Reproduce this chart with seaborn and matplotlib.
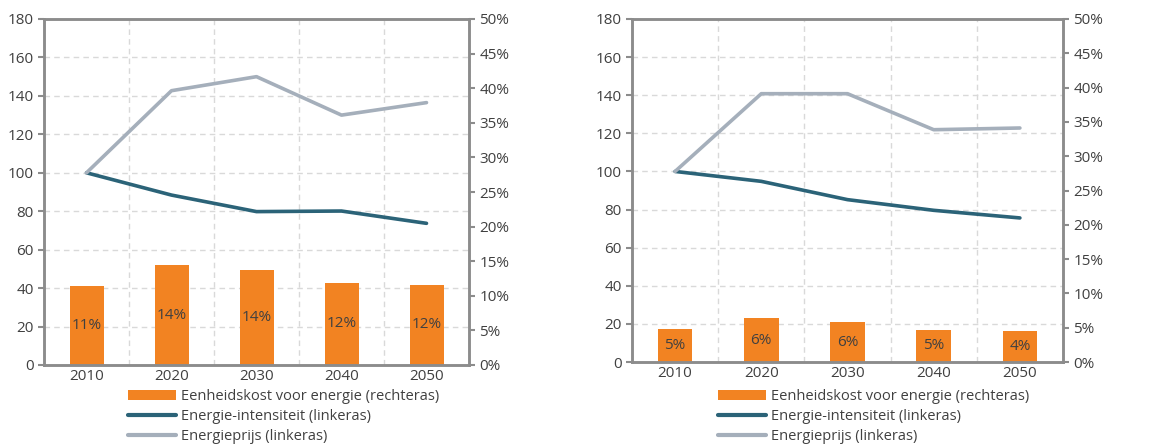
import matplotlib
matplotlib.use("Agg")
import matplotlib.pyplot as plt
import matplotlib.ticker as mticker
from matplotlib.patches import Patch
from matplotlib.lines import Line2D
import numpy as np
import seaborn as sns

years = ["2010", "2020", "2030", "2040", "2050"]

# left panel
cost_a = [11.4, 14.4, 13.7, 11.9, 11.6]          # % (rechteras)
intensity_a = [100, 88.4, 79.8, 80.1, 73.7]       # index (linkeras)
price_a = [100, 142.7, 150.0, 130.0, 136.5]       # index (linkeras)

# right panel
cost_b = [4.8, 6.4, 5.8, 4.7, 4.45]
intensity_b = [100, 94.8, 85.2, 79.6, 75.6]
price_b = [100, 140.8, 140.8, 121.9, 122.8]

legend_labels = ["Eenheidskost voor energie (rechteras)",
                 "Energie-intensiteit (linkeras)",
                 "Energieprijs (linkeras)"]

ORANGE = "#F28322"
TEAL = "#2B6378"
GREY = "#A5AFBB"
SPINE = "#8C8C8C"
TEXT = "#404040"

sns.set_theme(style="white")
plt.rcParams["font.family"] = ["Open Sans", "DejaVu Sans"]
plt.rcParams["text.color"] = TEXT
plt.rcParams["xtick.color"] = TEXT
plt.rcParams["ytick.color"] = TEXT

fig = plt.figure(figsize=(11.53, 4.46), dpi=100)
W, H = 1153, 446


def panel(rect, cost, intensity, price, leg_xy):
    ax = fig.add_axes(rect)
    # bars on the percent axis (drawn underneath)
    sns.barplot(x=years, y=cost, ax=ax, color=ORANGE, width=0.4,
                saturation=1, edgecolor="none", zorder=2)
    ax.set_ylim(0, 50)
    ax.set_xlim(-0.5, 4.5)
    ax.bar_label(ax.containers[0], labels=[f"{v:.0f}%" for v in cost],
                 label_type="center", fontsize=11, color=TEXT)

    ax2 = ax.twinx()
    sns.pointplot(x=years, y=intensity, ax=ax2, color=TEAL,
                  markersize=0, linewidth=2.6)
    sns.pointplot(x=years, y=price, ax=ax2, color=GREY,
                  markersize=0, linewidth=2.6)
    ax2.set_ylim(0, 180)
    ax2.set_xlim(-0.5, 4.5)

    # percent axis on the right, index axis on the left
    ax.yaxis.tick_right()
    ax.yaxis.set_major_locator(mticker.MultipleLocator(5))
    ax.yaxis.set_major_formatter(mticker.FuncFormatter(lambda v, p: f"{v:.0f}%"))
    ax2.yaxis.tick_left()
    ax2.yaxis.set_major_locator(mticker.MultipleLocator(20))
    ax.set_ylabel("")
    ax2.set_ylabel("")

    # grid: horizontal at left-axis steps, vertical between categories
    ax.yaxis.set_minor_locator(mticker.FixedLocator(np.linspace(0, 50, 10)))
    ax.xaxis.set_minor_locator(mticker.FixedLocator(np.arange(-0.5, 5, 1)))
    ax.grid(which="minor", color="#D9D9D9", linestyle=(0, (4, 3)), linewidth=1)
    ax.grid(which="major", visible=False)
    ax2.grid(False)
    ax.set_axisbelow(True)

    ax.tick_params(axis="x", which="major", length=0, labelsize=11, pad=3)
    ax.tick_params(axis="x", which="minor", length=4, width=1.5, color=SPINE,
                   direction="out")
    ax.tick_params(axis="y", which="minor", length=0, right=False, left=False)
    ax.tick_params(axis="y", which="major", length=4, width=1.5, color=SPINE,
                   labelsize=11, right=True, left=False, direction="out")
    ax2.tick_params(axis="y", length=4, width=1.5, color=SPINE, labelsize=11,
                    left=True, right=False, direction="out")
    ax2.tick_params(axis="x", length=0)

    for a in (ax, ax2):
        for s in a.spines.values():
            s.set_color(SPINE)
            s.set_linewidth(1.8)

    handles = [Patch(facecolor=ORANGE, edgecolor="none"),
               Line2D([], [], color=TEAL, linewidth=3),
               Line2D([], [], color=GREY, linewidth=3)]
    fig.legend(handles, legend_labels, loc="upper left",
               bbox_to_anchor=(leg_xy[0] / W, 1 - leg_xy[1] / H),
               frameon=False, fontsize=10.5, handlelength=3.3,
               handleheight=0.7, handletextpad=0.35, labelspacing=0.34,
               borderpad=0, borderaxespad=0)


panel([44 / W, 81 / H, 425 / W, 346 / H], cost_a, intensity_a, price_a, (128, 389))
panel([632 / W, 84 / H, 431 / W, 343 / H], cost_b, intensity_b, price_b, (718, 389))

fig.savefig("out.png", dpi=100)
